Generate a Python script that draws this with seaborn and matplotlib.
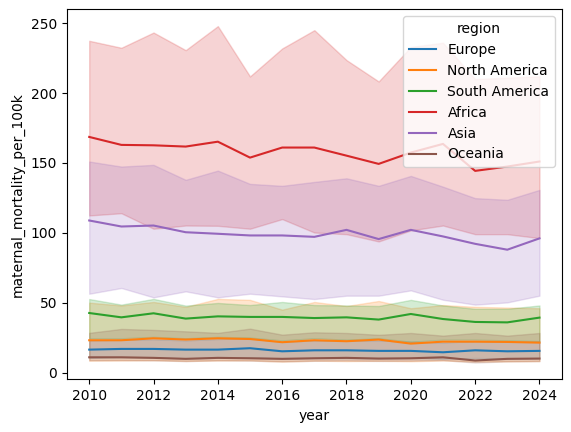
import pandas as pd
import matplotlib
matplotlib.use('Agg')
import matplotlib.pyplot as plt
import seaborn as sns

# Values (mean line + lower/upper edge of the band)
years = list(range(2010, 2025))
regions = ['Europe', 'North America', 'South America', 'Africa', 'Asia', 'Oceania']

europe_mean = [16.4, 16.9, 16.9, 16.4, 16.4, 17.4, 15.2, 15.9, 15.9, 15.5, 15.5, 14.5, 15.9, 15.2, 15.5]
europe_low = [10.5, 11.0, 10.8, 10.2, 10.6, 11.0, 10.0, 10.4, 10.2, 10.0, 10.3, 9.8, 10.4, 10.0, 10.2]
europe_high = [23.0, 23.5, 23.8, 23.0, 24.0, 24.5, 22.0, 23.0, 22.8, 23.0, 22.0, 21.5, 22.5, 22.0, 22.2]

namerica_mean = [23.1, 23.1, 24.5, 23.6, 24.5, 24.0, 21.7, 23.1, 22.4, 23.6, 20.7, 22.1, 22.1, 21.9, 21.4]
namerica_low = [8.5, 8.6, 8.8, 8.3, 8.6, 8.7, 7.8, 8.5, 8.2, 8.4, 8.1, 8.6, 7.9, 8.0, 8.2]
namerica_high = [50.0, 48.0, 50.5, 47.0, 52.7, 52.0, 45.0, 50.5, 47.6, 51.2, 46.0, 48.3, 47.0, 46.5, 46.0]

samerica_mean = [42.6, 39.5, 42.4, 38.6, 40.2, 39.8, 39.8, 39.0, 39.5, 37.9, 41.9, 38.3, 36.2, 35.9, 39.3]
samerica_low = [24.5, 24.5, 25.5, 24.5, 25.5, 25.0, 23.0, 24.5, 23.5, 24.5, 22.0, 23.5, 23.5, 23.0, 22.5]
samerica_high = [52.6, 48.6, 52.7, 47.9, 49.8, 48.3, 50.5, 48.3, 48.0, 47.6, 52.0, 48.0, 45.6, 45.6, 48.0]

africa_mean = [168.6, 162.9, 162.6, 161.7, 165.2, 153.8, 161.0, 161.0, 155.2, 149.3, 157.4, 163.6, 144.3, 147.4, 151.0]
africa_low = [112.4, 114.0, 102.9, 105.2, 105.0, 102.9, 109.8, 100.2, 99.0, 93.8, 101.7, 105.2, 99.0, 99.0, 96.2]
africa_high = [237.4, 232.4, 243.3, 230.7, 247.9, 211.9, 231.9, 245.0, 223.6, 208.3, 233.0, 236.0, 210.0, 211.0, 212.0]

asia_mean = [108.8, 104.5, 105.2, 100.4, 99.3, 98.1, 98.1, 97.1, 102.1, 95.5, 102.1, 97.4, 92.1, 87.9, 96.0]
asia_low = [56.4, 60.5, 53.8, 58.1, 53.8, 56.4, 54.5, 52.6, 55.0, 55.0, 58.8, 52.1, 48.6, 50.2, 55.0]
asia_high = [151.0, 147.4, 148.6, 137.9, 144.5, 135.0, 133.6, 136.4, 139.0, 133.6, 140.7, 133.0, 124.8, 123.6, 130.7]

oceania_mean = [10.9, 10.9, 10.5, 9.8, 10.5, 10.2, 9.8, 10.2, 10.5, 10.0, 10.2, 10.9, 8.6, 9.8, 10.0]
oceania_low = [8.8, 8.9, 8.7, 8.2, 8.7, 8.5, 8.0, 8.4, 8.6, 8.3, 8.5, 8.9, 7.2, 8.0, 8.2]
oceania_high = [28.4, 31.2, 30.5, 29.5, 28.4, 31.4, 27.1, 28.8, 28.3, 27.0, 28.3, 26.4, 28.3, 26.4, 28.3]

series = {
    'Europe': (europe_low, europe_mean, europe_high),
    'North America': (namerica_low, namerica_mean, namerica_high),
    'South America': (samerica_low, samerica_mean, samerica_high),
    'Africa': (africa_low, africa_mean, africa_high),
    'Asia': (asia_low, asia_mean, asia_high),
    'Oceania': (oceania_low, oceania_mean, oceania_high),
}

# long table: three rows per region/year -> median gives the line, min/max the band
rows = []
for region in regions:
    for vals in series[region]:
        for year, v in zip(years, vals):
            rows.append({'year': year, 'region': region, 'maternal_mortality_per_100k': v})
df = pd.DataFrame(rows)

fig = plt.figure(figsize=(5.71, 4.32), dpi=100)
ax = fig.add_subplot(111)
sns.lineplot(data=df, x='year', y='maternal_mortality_per_100k', hue='region',
             hue_order=regions, estimator='median', errorbar=('pi', 100), ax=ax)
sns.move_legend(ax, 'upper right')

plt.subplots_adjust(left=0.1168, right=0.9842, bottom=0.122, top=0.9785)
plt.savefig('out.png', dpi=100)
